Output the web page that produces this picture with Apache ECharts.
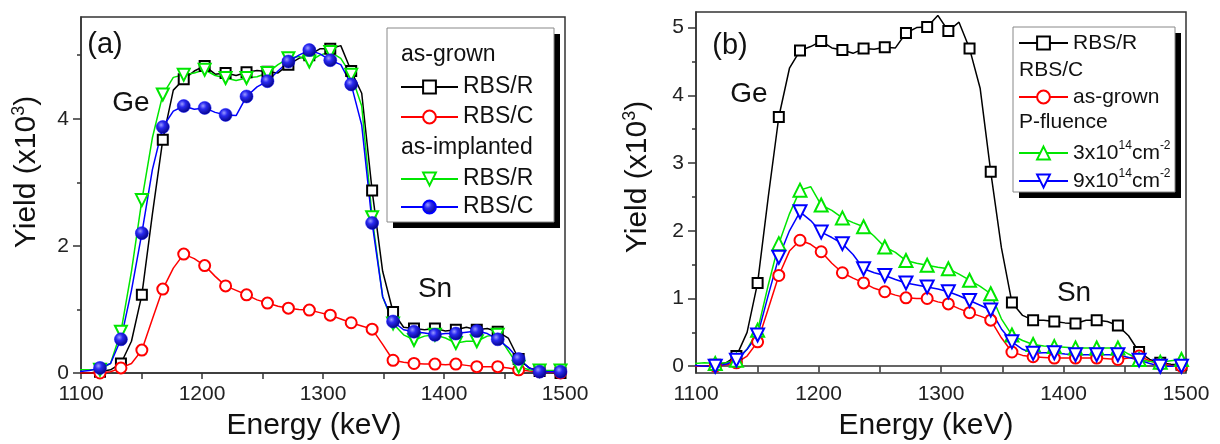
<!DOCTYPE html>
<html>
<head>
	<meta charset="utf-8" />
	<title>RBS spectra</title>
	<script src="https://cdn.jsdelivr.net/npm/echarts@6.0.0/dist/echarts.min.js"></script>
</head>
<body style="margin:0;background:#fff;">
	<div id="main" style="width:1220px;height:444px;"></div>
	<script type="text/javascript">

		// channels carrying a marker (keV) and the channels half way between them
		var markE = [1098.4, 1115.7, 1133, 1150.3, 1167.6, 1184.9, 1202.2, 1219.5, 1236.8, 1254.1, 1271.4, 1288.7,
			1306, 1323.3, 1340.6, 1357.9, 1375.2, 1392.5, 1409.8, 1427.1, 1444.4, 1461.7, 1479, 1496.3];
		var midE = [1107, 1124.4, 1141.7, 1159, 1176.3, 1193.6, 1210.9, 1228.2, 1245.5, 1262.8, 1280.1, 1297.4,
			1314.7, 1332, 1349.3, 1366.6, 1383.9, 1401.2, 1418.5, 1435.8, 1453.1, 1470.4, 1487.7];

		// (a) as-grown RBS/R
		var aGrownR = [0.0, 0.02, 0.15, 1.23, 3.67, 4.62, 4.83, 4.72, 4.73, 4.74, 4.85, 5.0, 5.1, 4.75, 2.87, 0.96, 0.7, 0.7, 0.68, 0.68, 0.65, 0.22, 0.03, 0.0];
		var aGrownRMid = [0.0, 0.05, 0.5, 2.5, 4.45, 4.75, 4.7, 4.68, 4.76, 4.72, 4.95, 5.1, 5.15, 4.4, 1.6, 0.72, 0.68, 0.66, 0.72, 0.7, 0.55, 0.08, 0.01];
		// (a) as-grown RBS/C
		var aGrownC = [0.0, 0.0, 0.08, 0.36, 1.32, 1.87, 1.69, 1.37, 1.23, 1.10, 1.02, 0.99, 0.91, 0.79, 0.69, 0.2, 0.15, 0.14, 0.14, 0.10, 0.10, 0.05, 0.02, 0.0];
		var aGrownCMid = [0.0, 0.02, 0.15, 0.85, 1.65, 1.8, 1.52, 1.3, 1.15, 1.05, 1.0, 0.95, 0.85, 0.74, 0.45, 0.17, 0.14, 0.13, 0.12, 0.1, 0.08, 0.03, 0.01];
		// (a) as-implanted RBS/R
		var aImplR = [0.05, 0.05, 0.65, 2.72, 4.38, 4.69, 4.77, 4.64, 4.64, 4.72, 4.95, 4.9, 5.05, 4.69, 2.45, 0.78, 0.52, 0.6, 0.47, 0.5, 0.6, 0.1, 0.04, 0.04];
		var aImplRMid = [0.05, 0.15, 1.6, 3.7, 4.65, 4.72, 4.68, 4.6, 4.66, 4.85, 4.98, 5.0, 4.95, 4.2, 1.2, 0.6, 0.58, 0.55, 0.5, 0.58, 0.35, 0.05, 0.04];
		// (a) as-implanted RBS/C
		var aImplC = [0.02, 0.08, 0.53, 2.2, 3.87, 4.2, 4.17, 4.06, 4.35, 4.59, 4.9, 5.08, 4.92, 4.54, 2.36, 0.81, 0.65, 0.6, 0.62, 0.66, 0.53, 0.22, 0.02, 0.02];
		var aImplCMid = [0.04, 0.15, 1.3, 3.2, 4.12, 4.15, 4.1, 4.05, 4.5, 4.75, 5.0, 5.02, 4.85, 3.9, 1.2, 0.68, 0.63, 0.62, 0.64, 0.62, 0.4, 0.08, 0.02];

		// (b) RBS/R
		var bRandom = [0.0, 0.02, 0.15, 1.23, 3.68, 4.66, 4.80, 4.67, 4.69, 4.71, 4.92, 5.01, 4.95, 4.69, 2.87, 0.94, 0.68, 0.66, 0.63, 0.68, 0.6, 0.21, 0.05, 0.02];
		var bRandomMid = [0.0, 0.05, 0.5, 2.5, 4.4, 4.72, 4.7, 4.62, 4.68, 4.7, 5.0, 5.18, 5.08, 4.1, 1.75, 0.75, 0.68, 0.64, 0.68, 0.66, 0.45, 0.1, 0.03];
		// (b) RBS/C as-grown
		var bGrown = [0.0, 0.0, 0.05, 0.36, 1.34, 1.86, 1.69, 1.38, 1.23, 1.10, 1.01, 1.0, 0.92, 0.79, 0.68, 0.21, 0.14, 0.12, 0.12, 0.12, 0.10, 0.15, 0.03, 0.0];
		var bGrownMid = [0.0, 0.02, 0.15, 0.85, 1.7, 1.8, 1.52, 1.3, 1.15, 1.05, 1.0, 0.95, 0.85, 0.74, 0.42, 0.16, 0.13, 0.12, 0.12, 0.11, 0.12, 0.08, 0.01];
		// (b) RBS/C P-fluence 3x10^14
		var bP3 = [0.04, 0.04, 0.09, 0.53, 1.81, 2.6, 2.38, 2.19, 2.06, 1.76, 1.56, 1.49, 1.44, 1.27, 1.07, 0.46, 0.32, 0.29, 0.27, 0.27, 0.27, 0.1, 0.06, 0.1];
		var bP3Mid = [0.05, 0.05, 0.25, 1.2, 2.25, 2.65, 2.3, 2.12, 1.92, 1.68, 1.52, 1.46, 1.36, 1.18, 0.7, 0.38, 0.3, 0.28, 0.27, 0.27, 0.18, 0.07, 0.08];
		// (b) RBS/C P-fluence 9x10^14
		var bP9 = [0.01, 0.0, 0.09, 0.46, 1.61, 2.28, 1.98, 1.81, 1.44, 1.34, 1.23, 1.17, 1.10, 0.97, 0.83, 0.36, 0.19, 0.2, 0.17, 0.17, 0.17, 0.09, 0.0, 0.0];
		var bP9Mid = [0.0, 0.03, 0.25, 1.05, 2.0, 2.15, 1.9, 1.65, 1.38, 1.28, 1.2, 1.14, 1.04, 0.9, 0.55, 0.25, 0.2, 0.18, 0.17, 0.17, 0.13, 0.04, 0.0];

		var xLabels = [1100, 1200, 1300, 1400, 1500];
		var xTicks = [1100, 1150, 1200, 1250, 1300, 1350, 1400, 1450, 1500];
		var aYTicks = [0, 2, 4];
		var aYMinor = [1, 3, 5];
		var bYTicks = [0, 1, 2, 3, 4, 5];
		var bYMinor = [0.5, 1.5, 2.5, 3.5, 4.5];

		var FONT = '"Liberation Sans", Arial, sans-serif';
		var AXIS = '#333';

		var myChart = echarts.init(document.getElementById('main'));

		// merge marker channels and in-between channels into one spectrum
		function spectrum(mark, mid) {
			var d = [];
			for (var i = 0; i < mark.length; i++) {
				d.push([markE[i], mark[i]]);
				if (i < mid.length) d.push({ value: [midE[i], mid[i]], symbol: 'none' });
			}
			return d;
		}

		function series(name, gi, data, color, symbol, size, rotate, fill) {
			return {
				name: name, type: 'line', xAxisIndex: gi, yAxisIndex: gi * 2,
				data: data, symbol: symbol, symbolSize: size, symbolRotate: rotate || 0,
				showAllSymbol: true, animation: false,
				lineStyle: { color: color, width: 1.5 },
				itemStyle: { color: fill || color, borderColor: color, borderWidth: fill ? 0.5 : 2 }
			};
		}

		var ball = new echarts.graphic.RadialGradient(0.38, 0.35, 0.7, [
			{ offset: 0, color: '#9a9aff' },
			{ offset: 0.35, color: '#2a2af0' },
			{ offset: 1, color: '#00007a' }
		]);

		var names = {
			'aGR': 'RBS/R', 'aGC': 'RBS/C', 'aIR': 'RBS/R', 'aIC': 'RBS/C',
			'bR': 'RBS/R', 'bG': 'as-grown', 'bP3': '{n|3x10}{s|14}{n|cm}{s|-2}', 'bP9': '{n|9x10}{s|14}{n|cm}{s|-2}'
		};

		function leg(name, x, yc, w, fs) {
			return {
				data: [name], left: x, top: yc - 13, orient: 'vertical', padding: 0,
				itemWidth: w, itemHeight: 16, selectedMode: false, z: 6,
				formatter: function (n) { return names[n]; },
				textStyle: {
					fontSize: fs, fontFamily: FONT, color: '#111', lineHeight: 26,
					rich: {
						n: { fontSize: fs, fontFamily: FONT, color: '#111', lineHeight: 26 },
						s: { fontSize: 12, fontFamily: FONT, color: '#111', lineHeight: 12, verticalAlign: 'top' }
					}
				}
			};
		}

		function xAx(gi) {
			return {
				type: 'value', gridIndex: gi, min: 1100, max: 1500, interval: 100,
				axisLine: { lineStyle: { color: AXIS, width: 1.5 } },
				axisTick: { length: 6, customValues: xTicks, lineStyle: { color: AXIS, width: 1.5 } },
				axisLabel: { fontSize: 21, fontFamily: FONT, color: '#222', margin: 11,
					customValues: xLabels, formatter: function (v) { return String(v); } },
				splitLine: { show: false }
			};
		}

		function yAx(gi, min, max, ticks) {
			return {
				type: 'value', gridIndex: gi, min: min, max: max,
				axisLine: { lineStyle: { color: AXIS, width: 1.5 } },
				axisTick: { length: 8, customValues: ticks, lineStyle: { color: AXIS, width: 1.5 } },
				axisLabel: { fontSize: 21, fontFamily: FONT, color: '#222', margin: 12, customValues: ticks },
				splitLine: { show: false }
			};
		}

		function yMinor(gi, min, max, ticks) {
			return {
				type: 'value', gridIndex: gi, min: min, max: max, position: 'left',
				axisLine: { show: false },
				axisTick: { length: 4, customValues: ticks, lineStyle: { color: AXIS, width: 1.5 } },
				axisLabel: { show: false },
				splitLine: { show: false }
			};
		}

		function txt(x, y, s, fs, align, rot) {
			return {
				type: 'text', x: x, y: y, rotation: rot || 0, z: 10,
				style: {
					text: s, fontSize: fs, fontFamily: FONT, fill: '#111',
					align: align || 'center', verticalAlign: 'middle',
					rich: {
						a: { fontSize: fs, fontFamily: FONT, fill: '#111', lineHeight: fs + 4 },
						s: { fontSize: Math.round(fs * 0.6), fontFamily: FONT, fill: '#111', lineHeight: 14, verticalAlign: 'top' }
					}
				}
			};
		}

		function box(x, y, w, h) {
			return [
				{ type: 'rect', z: 3, shape: { x: x + 6, y: y + 6, width: w, height: h }, style: { fill: '#000' } },
				{ type: 'rect', z: 3, shape: { x: x, y: y, width: w, height: h }, style: { fill: '#fff', stroke: '#888', lineWidth: 1 } }
			];
		}

		var option = {
			animation: false,
			backgroundColor: '#fff',
			grid: [
				{ left: 81, top: 17, width: 484, height: 356, show: true, borderColor: AXIS, borderWidth: 1.5 },
				{ left: 696, top: 12, width: 490, height: 361, show: true, borderColor: AXIS, borderWidth: 1.5 }
			],
			xAxis: [xAx(0), xAx(1)],
			yAxis: [
				yAx(0, 0, 5.6, aYTicks), yMinor(0, 0, 5.6, aYMinor),
				yAx(1, -0.1, 5.23, bYTicks), yMinor(1, -0.1, 5.23, bYMinor)
			],
			legend: [
				leg('aGR', 400, 87, 57, 23), leg('aGC', 400, 117, 57, 23),
				leg('aIR', 400, 179, 57, 23), leg('aIC', 400, 207, 57, 23),
				leg('bR', 1018, 43, 49, 21), leg('bG', 1018, 97, 49, 21),
				leg('bP3', 1018, 153, 49, 21), leg('bP9', 1018, 181, 49, 21)
			],
			graphic: [].concat(
				box(387, 28, 167, 194),
				box(1013, 27, 162, 165),
				[
					txt(401, 55, 'as-grown', 23, 'left'),
					txt(401, 148, 'as-implanted', 23, 'left'),
					txt(1019, 70, 'RBS/C', 21, 'left'),
					txt(1019, 122, 'P-fluence', 21, 'left'),
					txt(105, 45, '(a)', 29),
					txt(131, 103, 'Ge', 28),
					txt(435, 289, 'Sn', 28),
					txt(730, 46, '(b)', 29),
					txt(749, 94, 'Ge', 28),
					txt(1074, 293, 'Sn', 28),
					txt(314, 426, 'Energy (keV)', 30),
					txt(926, 426, 'Energy (keV)', 30),
					txt(27, 172, '{a|Yield (x10}{s|3}{a|)}', 30, 'center', Math.PI / 2),
					txt(638, 177, '{a|Yield (x10}{s|3}{a|)}', 30, 'center', Math.PI / 2)
				]
			),
			series: [
				series('aGR', 0, spectrum(aGrownR, aGrownRMid), '#000', 'emptyRect', 10),
				series('aGC', 0, spectrum(aGrownC, aGrownCMid), '#ff0000', 'emptyCircle', 11),
				series('aIR', 0, spectrum(aImplR, aImplRMid), '#00e600', 'emptyTriangle', 12, 180),
				series('aIC', 0, spectrum(aImplC, aImplCMid), '#0000ff', 'circle', 13, 0, ball),
				series('bR', 1, spectrum(bRandom, bRandomMid), '#000', 'emptyRect', 10),
				series('bG', 1, spectrum(bGrown, bGrownMid), '#ff0000', 'emptyCircle', 11),
				series('bP3', 1, spectrum(bP3, bP3Mid), '#00e600', 'emptyTriangle', 13),
				series('bP9', 1, spectrum(bP9, bP9Mid), '#0000ff', 'emptyTriangle', 13, 180)
			]
		};

		myChart.setOption(option);

	</script>
</body>
</html>
